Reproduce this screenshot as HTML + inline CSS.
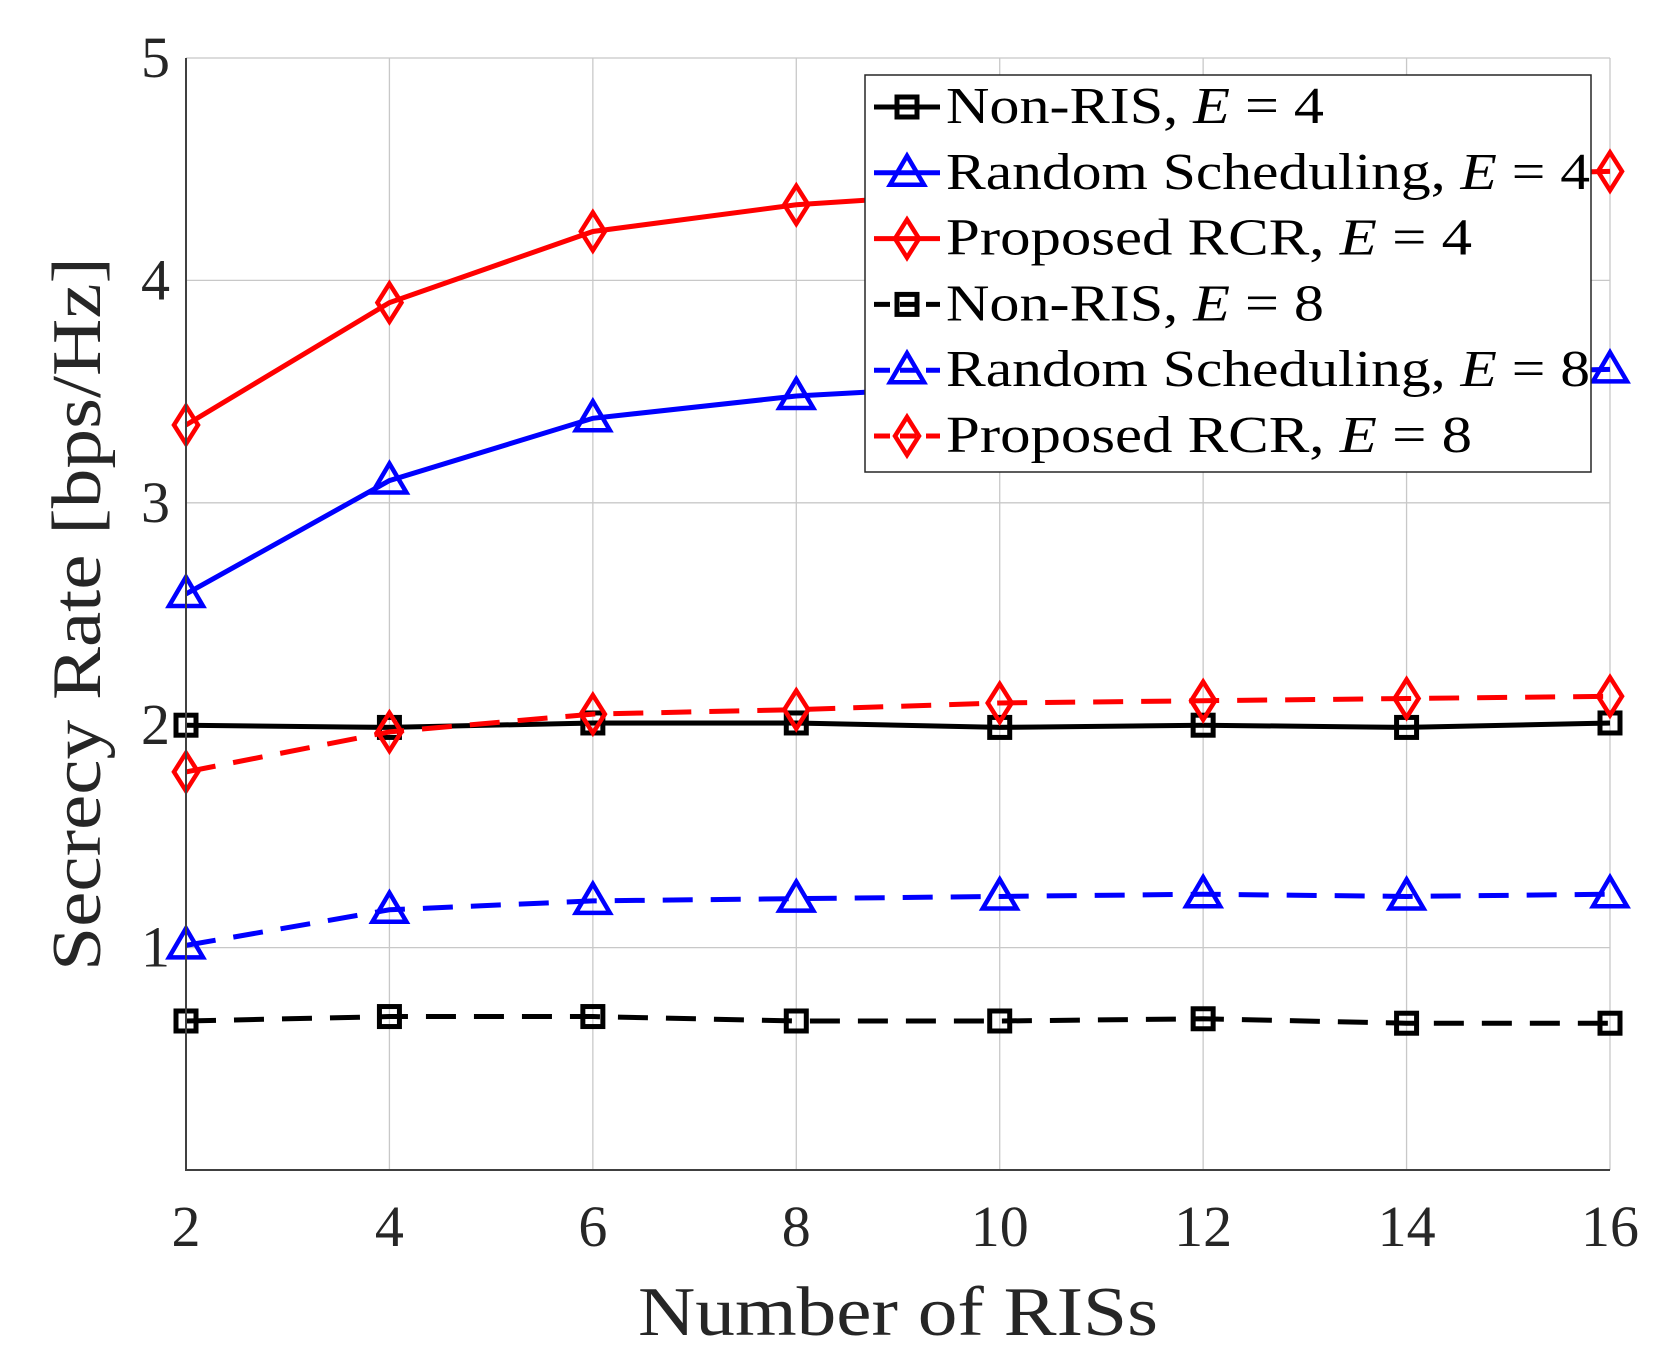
<!DOCTYPE html>
<html><head><meta charset="utf-8"><style>
body{margin:0;background:#fff}
svg{display:block;font-family:"Liberation Serif",serif}
</style></head><body>
<svg id="chart" width="1674" height="1358" viewBox="0 0 1674 1358">
<g id="grid"></g>
<g id="series"></g>
<g id="axes"></g>
<g id="legend"></g>
</svg>
<script>
const categories=[2,4,6,8,10,12,14,16];
const xTickLabels=["2","4","6","8","10","12","14","16"];
const yTickValues=[1,2,3,4,5];
const yTickLabels=["1","2","3","4","5"];
const nonRisE4=[2.0,1.99,2.01,2.01,1.99,2.0,1.99,2.01];
const randomE4=[2.59,3.10,3.38,3.48,3.53,3.56,3.58,3.60];
const proposedE4=[3.35,3.90,4.22,4.34,4.40,4.44,4.47,4.49];
const nonRisE8=[0.67,0.69,0.69,0.67,0.67,0.68,0.66,0.66];
const randomE8=[1.01,1.17,1.21,1.22,1.23,1.24,1.23,1.24];
const proposedE8=[1.79,1.97,2.05,2.07,2.10,2.11,2.12,2.13];
const seriesNames=["Non-RIS, ","Random Scheduling, ","Proposed RCR, ","Non-RIS, ","Random Scheduling, ","Proposed RCR, "];
const seriesE=["4","4","4","8","8","8"];

const NS="http://www.w3.org/2000/svg";
const L=186,R=1610,T=58,B=1170;
const xS=v=>L+(v-2)/(16-2)*(R-L);
const yS=v=>B-(v-0)/(5-0)*(B-T);
function mk(tag,attrs,parent){const e=document.createElementNS(NS,tag);for(const k in attrs)e.setAttribute(k,attrs[k]);parent.appendChild(e);return e;}
const grid=document.getElementById('grid'),axes=document.getElementById('axes'),sg=document.getElementById('series'),lg=document.getElementById('legend');

categories.forEach((c,i)=>{
 const g=mk('line',{x1:xS(c),x2:xS(c),y1:T,y2:B,stroke:'#c8c8c8','stroke-width':1.3},grid);
 
 
 const t=mk('text',{x:xS(c),y:1246,'font-size':58,'text-anchor':'middle',fill:'#262626'},axes);
 t.textContent=xTickLabels[i];
 
 
});
yTickValues.forEach((v,i)=>{
 const g=mk('line',{x1:L,x2:R,y1:yS(v),y2:yS(v),stroke:'#c8c8c8','stroke-width':1.3},grid);
 
 
 const t=mk('text',{x:170,y:yS(v)+19,'font-size':58,'text-anchor':'end',fill:'#262626'},axes);
 t.textContent=yTickLabels[i];
 
 
});
const frame=mk('path',{d:`M${L},${T}V${B}H${R}`,fill:'none',stroke:'#404040','stroke-width':2},axes);


const xt=mk('text',{x:(L+R)/2,y:1335,'font-size':70,'text-anchor':'middle',fill:'#262626',textLength:520,lengthAdjust:'spacingAndGlyphs'},axes);
xt.textContent='Number of RISs';


const yt=mk('text',{x:0,y:0,'font-size':70,'text-anchor':'middle',fill:'#262626',textLength:714,lengthAdjust:'spacingAndGlyphs',transform:`translate(100,${(T+B)/2}) rotate(-90)`},axes);
yt.textContent='Secrecy Rate [bps/Hz]';



function marker(type,x,y,color,parent){
 let e;
 if(type==='sq') e=mk('rect',{x:x-10,y:y-10,width:20,height:20,fill:'none',stroke:color,'stroke-width':5},parent);
 else if(type==='tri') e=mk('path',{d:`M${x},${y-17}L${x+17},${y+12}L${x-17},${y+12}Z`,fill:'none',stroke:color,'stroke-width':4.5},parent);
 else e=mk('path',{d:`M${x},${y-19}L${x+12},${y}L${x},${y+19}L${x-12},${y}Z`,fill:'none',stroke:color,'stroke-width':4.5},parent);
 return e;
}
const seriesData=[nonRisE4,randomE4,proposedE4,nonRisE8,randomE8,proposedE8];
const colors=['#000','#0000ff','#ff0000','#000','#0000ff','#ff0000'];
const mtypes=['sq','tri','dia','sq','tri','dia'];
const dashed=[false,false,false,true,true,true];
const snames=['non-ris-e4','random-scheduling-e4','proposed-rcr-e4','non-ris-e8','random-scheduling-e8','proposed-rcr-e8'];
const legendWidths=[378,644,526,378,644,526];
seriesData.forEach((d,si)=>{
 const g=mk('g',{},sg);
 
 
 const pts=d.map((v,i)=>xS(categories[i])+','+yS(v)).join(' ');
 const pl=mk('polyline',{points:pts,fill:'none',stroke:colors[si],'stroke-width':5,'stroke-dasharray':dashed[si]?'30 18':'none'},g);
 
 
 d.forEach((v,i)=>{
  const m=marker(mtypes[si],xS(categories[i]),yS(v),colors[si],g);
  
  
 });
});
const box=mk('rect',{x:865,y:75,width:726,height:397,fill:'#fff',stroke:'#262626','stroke-width':1.5},lg);


seriesNames.forEach((n,si)=>{
 const y=107+si*65.8;
 const g=mk('g',{},lg);
 
 
 mk('line',{x1:874,x2:940,y1:y,y2:y,stroke:colors[si],'stroke-width':5,'stroke-dasharray':dashed[si]?'16 10':'none'},g);
 marker(mtypes[si],907,y,colors[si],g);
 const t=mk('text',{x:946,y:y+16,'font-size':52,fill:'#000',textLength:legendWidths[si],lengthAdjust:'spacingAndGlyphs'},g);
 t.appendChild(document.createTextNode(n));
 const ts=mk('tspan',{'font-style':'italic'},t);ts.textContent='E';
 t.appendChild(document.createTextNode(' = '+seriesE[si]));
});
</script>
</body></html>
